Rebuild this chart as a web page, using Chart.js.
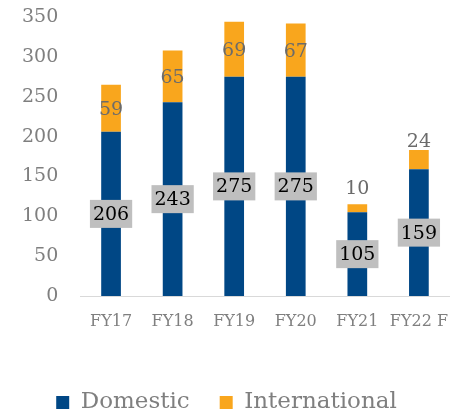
<!DOCTYPE html>
<html><head><meta charset="utf-8">
<script src="https://cdn.jsdelivr.net/npm/chart.js@4/dist/chart.umd.min.js"></script>
<style>html,body{margin:0;padding:0;background:#fff}#wrap{width:465px;height:418px}</style>
</head><body><div id="wrap"><canvas id="c" width="465" height="418"></canvas></div>
<script>
const categories = ["FY17","FY18","FY19","FY20","FY21","FY22 F"];
const domestic = [206,243,275,275,105,159];
const international = [59,65,69,67,10,24];
const yTicks = [0,50,100,150,200,250,300,350];

const FONT = "'DejaVu Serif', 'Liberation Serif', serif";

const labelPlugin = {
  id: 'segLabels',
  afterDatasetsDraw(chart) {
    const ctx = chart.ctx;
    ctx.save();
    ctx.textAlign = 'center';
    ctx.textBaseline = 'middle';
    ctx.font = "19px " + FONT;
    chart.getDatasetMeta(0).data.forEach((bar, i) => {
      const txt = String(domestic[i]);
      const y = (bar.y + bar.base) / 2;
      const w = ctx.measureText(txt).width + 6;
      ctx.fillStyle = '#bfbfbf';
      ctx.fillRect(bar.x - w/2, y - 14, w, 28);
      ctx.fillStyle = '#000';
      ctx.fillText(txt, bar.x, y + 1);
    });
    chart.getDatasetMeta(1).data.forEach((bar, i) => {
      const txt = String(international[i]);
      const h = bar.base - bar.y;
      let y = (bar.y + bar.base) / 2 + 2;
      if (h < 12) y = bar.y - 15;
      else if (h < 26) y = bar.y - 8;
      ctx.fillStyle = '#6b6b6b';
      ctx.fillText(txt, bar.x, y);
    });
    ctx.restore();
  }
};

new Chart(document.getElementById('c'), {
  type: 'bar',
  data: {
    labels: categories,
    datasets: [
      {label: 'Domestic', data: domestic, backgroundColor: '#004785', barPercentage: 0.64, categoryPercentage: 0.5},
      {label: 'International', data: international, backgroundColor: '#f9a61d', barPercentage: 0.64, categoryPercentage: 0.5}
    ]
  },
  options: {
    responsive: false,
    animation: false,
    layout: {padding: {left: 0, right: 12, top: 0, bottom: -6}},
    scales: {
      x: {
        stacked: true,
        grid: {display: false, drawTicks: false},
        border: {display: true, color: '#d9d9d9', width: 1},
        ticks: {color: '#7f7f7f', font: {family: FONT, size: 16}, padding: 16, maxRotation: 0, minRotation: 0, autoSkip: false},
        afterFit(scale) { scale.height = 65; }
      },
      y: {
        stacked: true, min: 0, max: 350,
        afterBuildTicks(axis) { axis.ticks = yTicks.map(v => ({value: v})); },
        grid: {display: false, drawTicks: false},
        border: {display: false},
        ticks: {color: '#7f7f7f', font: {family: FONT, size: 19}, padding: 22},
        afterFit(scale) { scale.paddingTop = 17; scale.paddingBottom = 0; }
      }
    },
    plugins: {
      legend: {
        position: 'bottom',
        labels: {boxWidth: 13, boxHeight: 13, color: '#7f7f7f', font: {family: FONT, size: 23}, padding: 30}
      },
      tooltip: {enabled: false}
    }
  },
  plugins: [labelPlugin]
});
</script></body></html>
